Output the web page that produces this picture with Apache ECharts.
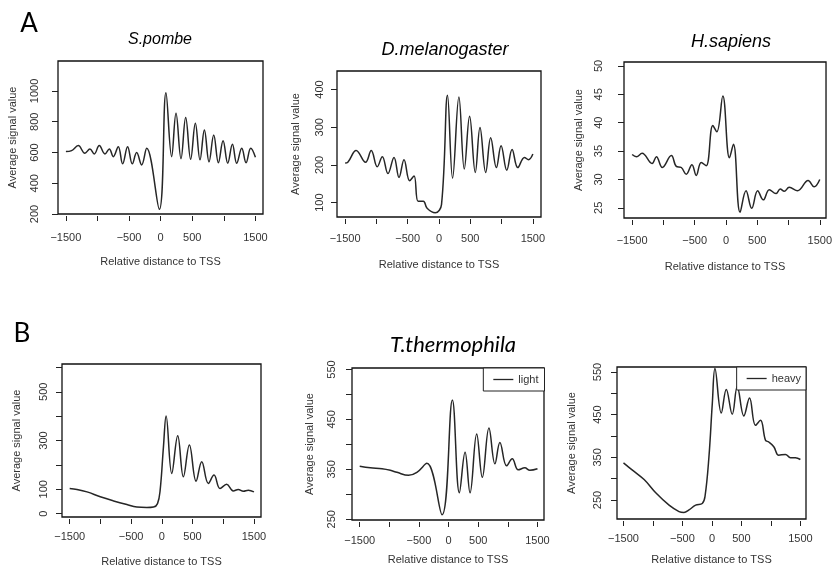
<!DOCTYPE html>
<html><head><meta charset="utf-8">
<script src="https://cdn.jsdelivr.net/npm/echarts@6/dist/echarts.min.js"></script>
<style>html,body{margin:0;padding:0;background:#fff}#c{width:835px;height:570px}</style>
</head><body><div id="c"></div>
<script>
// ---- tick values / labels ----
const xTicks = [-1500, -1000, -500, 0, 500, 1000, 1500];
const xTickLabels = [-1500, -500, 0, 500, 1500];
const pombeYTicks = [200, 400, 600, 800, 1000];
const pombeYLabels = [200, 400, 600, 800, 1000];
const melanoYTicks = [100, 200, 300, 400];
const melanoYLabels = [100, 200, 300, 400];
const sapiensYTicks = [25, 30, 35, 40, 45, 50];
const sapiensYLabels = [25, 30, 35, 40, 45, 50];
const ttYTicks = [0, 100, 200, 300, 400, 500, 600];
const ttYLabels = [0, 100, 300, 500];
const lightYTicks = [250, 300, 350, 400, 450, 500, 550];
const lightYLabels = [250, 350, 450, 550];
const heavyYTicks = [250, 300, 350, 400, 450, 500, 550];
const heavyYLabels = [250, 350, 450, 550];

// ---- series values (relative distance to TSS, average signal value) ----
const pombeX = [-1500,-1410,-1305,-1199,-1120,-1051,-972,-882,-813,-750,-671,-602,-523,-449,-380,-301,-222,-21,84,174,243,322,396,475,549,623,692,766,840,914,988,1062,1136,1204,1284,1352,1426,1500];
const pombeY = [606,612,645,595,623,591,645,591,623,573,638,526,638,526,600,519,627,231,989,573,855,560,827,556,790,552,747,539,714,534,677,530,653,530,627,534,627,569];

const melanoX = [-1500,-1457,-1324,-1174,-1083,-987,-906,-816,-719,-639,-559,-468,-398,-334,-250,-190,-60,40,136,217,318,404,489,580,655,746,826,917,992,1083,1168,1259,1366,1430,1500];
const melanoY = [205,207,238,207,238,195,222,177,220,167,214,158,171,104,104,85,73,95,385,165,380,189,329,180,299,180,272,193,251,186,241,193,220,214,229];

const sapiensX = [-1500,-1431,-1341,-1181,-1112,-1017,-873,-794,-714,-635,-544,-475,-396,-316,-210,-146,-50,56,120,226,321,412,507,597,693,799,868,932,1012,1144,1314,1410,1500];
const sapiensY = [34.4,34.0,34.6,32.8,34.0,32.1,34.2,32.3,32.1,30.9,32.6,30.7,33.0,32.4,39.5,38.4,44.7,33.8,36.2,24.2,28.0,24.9,28.0,26.4,28.2,27.5,28.3,27.9,28.6,28.0,29.8,28.7,30.0];

const ttX = [-1500,-1381,-1218,-1002,-785,-569,-406,-244,-135,-70,-27,27,70,162,259,351,449,558,650,758,850,948,1056,1164,1245,1327,1408,1500];
const ttY = [103,99,89,69,52,37,27,25,27,41,96,275,401,165,320,151,282,133,213,124,158,103,120,93,99,92,96,89];

const lightX = [-1500,-1321,-1124,-984,-872,-676,-535,-367,-110,64,182,278,362,474,569,681,782,866,979,1074,1175,1287,1371,1500];
const lightY = [356,353,351,348,344,338,344,362,259,489,303,384,303,421,334,433,361,404,357,371,349,353,348,351];

const heavyX = [-1500,-1348,-1150,-953,-727,-558,-474,-389,-276,-164,-118,-51,6,51,158,243,344,429,541,637,739,823,908,964,1049,1133,1246,1331,1415,1500];
const heavyY = [337,320,298,267,238,223,221,227,238,242,258,351,476,558,454,509,451,516,447,489,425,437,390,386,375,355,357,349,349,345];

// ---- layout (pixels) ----
const panels = [
  {name:'S.pombe', xs:pombeX, ys:pombeY, yt:pombeYTicks, yl:pombeYLabels, g:[58,61,205,153], xr:[-1625,1620], yr:[200,1195], ylm:18, ng:40, xng:40, xlm:16},
  {name:'D.melanogaster', xs:melanoX, ys:melanoY, yt:melanoYTicks, yl:melanoYLabels, g:[337,71,204,146], xr:[-1630,1630], yr:[62,449], ylm:12, ng:36, xng:40, xlm:14},
  {name:'H.sapiens', xs:sapiensX, ys:sapiensY, yt:sapiensYTicks, yl:sapiensYLabels, g:[624,62,203,156], xr:[-1630,1600], yr:[23.2,50.7], ylm:20, ng:40, xng:41, xlm:15},
  {name:'T.thermophila', xs:ttX, ys:ttY, yt:ttYTicks, yl:ttYLabels, g:[62,364,199,153], xr:[-1625,1615], yr:[-14,614], ylm:13, ng:40, xng:37, xlm:12},
  {name:'light', xs:lightX, ys:lightY, yt:lightYTicks, yl:lightYLabels, g:[352,368,192,152], xr:[-1630,1610], yr:[248.5,553], ylm:15, ng:37, xng:32, xlm:13},
  {name:'heavy', xs:heavyX, ys:heavyY, yt:heavyYTicks, yl:heavyYLabels, g:[617,367,189,152], xr:[-1610,1595], yr:[205.6,561.7], ylm:14, ng:40, xng:33, xlm:12}
];

const FONT = "'Liberation Sans', Arial, sans-serif";
const TXT = '#333';
const grid = [], xAxis = [], yAxis = [], series = [];
panels.forEach((p, i) => {
  grid.push({left:p.g[0], top:p.g[1], width:p.g[2], height:p.g[3], show:true, borderColor:'#111', borderWidth:1.3, backgroundColor:'transparent', containLabel:false});
  xAxis.push({
    type:'value', gridIndex:i, min:p.xr[0], max:p.xr[1], offset:2, position:'bottom',
    axisLine:{show:false, onZero:false}, splitLine:{show:false},
    axisTick:{show:true, length:5, customValues:xTicks, lineStyle:{color:'#222', width:1}},
    axisLabel:{customValues:xTickLabels, margin:p.xlm, fontSize:11, fontFamily:FONT, color:TXT,
      formatter:v => String(v).replace('-', '\u2212')},
    name:'Relative distance to TSS', nameLocation:'middle', nameGap:p.xng,
    nameTextStyle:{fontSize:11, fontFamily:FONT, color:TXT}
  });
  yAxis.push({
    type:'value', gridIndex:i, min:p.yr[0], max:p.yr[1], position:'left',
    axisLine:{show:false, onZero:false}, splitLine:{show:false},
    axisTick:{show:true, length:6, customValues:p.yt, lineStyle:{color:'#222', width:1}},
    axisLabel:{customValues:p.yl, rotate:90, margin:p.ylm, fontSize:11, fontFamily:FONT, color:TXT,
      formatter:v => String(v)},
    name:'Average signal value', nameLocation:'middle', nameRotate:90, nameGap:p.ng,
    nameTextStyle:{fontSize:11, fontFamily:FONT, color:TXT}
  });
  series.push({
    name:p.name, type:'line', xAxisIndex:i, yAxisIndex:i, smooth:0.4, symbol:'none',
    lineStyle:{color:'#262626', width:1.5}, itemStyle:{color:'#262626'},
    data:p.xs.map((x, k) => [x, p.ys[k]])
  });
});

const titleFont = "italic 16px 'Liberation Sans', Arial, sans-serif";
const graphic = [
  {type:'text', x:29, y:24, style:{text:'A', font:"26px Lato, 'Open Sans', sans-serif", fill:'#000', textAlign:'center', textVerticalAlign:'middle'}},
  {type:'text', x:22, y:334, style:{text:'B', font:"26px Lato, 'Open Sans', sans-serif", fill:'#000', textAlign:'center', textVerticalAlign:'middle'}},
  {type:'text', x:160, y:40, style:{text:'S.pombe', font:titleFont, fill:'#000', textAlign:'center', textVerticalAlign:'middle'}},
  {type:'text', x:445, y:50, style:{text:'D.melanogaster', font:"italic 18px 'Liberation Sans', Arial, sans-serif", fill:'#000', textAlign:'center', textVerticalAlign:'middle'}},
  {type:'text', x:731, y:42, style:{text:'H.sapiens', font:"italic 18px 'Liberation Sans', Arial, sans-serif", fill:'#000', textAlign:'center', textVerticalAlign:'middle'}},
  {type:'text', x:453, y:345, style:{text:'T.thermophila', font:"italic 22px Lato, 'Open Sans', sans-serif", fill:'#000', textAlign:'center', textVerticalAlign:'middle'}}
];

const legendBase = {orient:'horizontal', borderColor:'#222', borderWidth:1, backgroundColor:'#fff', itemWidth:20, itemHeight:1.3, icon:'rect', selectedMode:false,
  textStyle:{fontSize:11, fontFamily:FONT, color:TXT}};
const legend = [
  Object.assign({}, legendBase, {data:['light'], right:835-544.5, top:368, padding:[6,6,6,10]}),
  Object.assign({}, legendBase, {data:['heavy'], right:835-806, top:367, padding:[6,5,6,10]})
];

const chart = echarts.init(document.getElementById('c'), null, {renderer:'canvas'});
chart.setOption({animation:false, backgroundColor:'#fff', grid, xAxis, yAxis, series, graphic, legend});
</script></body></html>
